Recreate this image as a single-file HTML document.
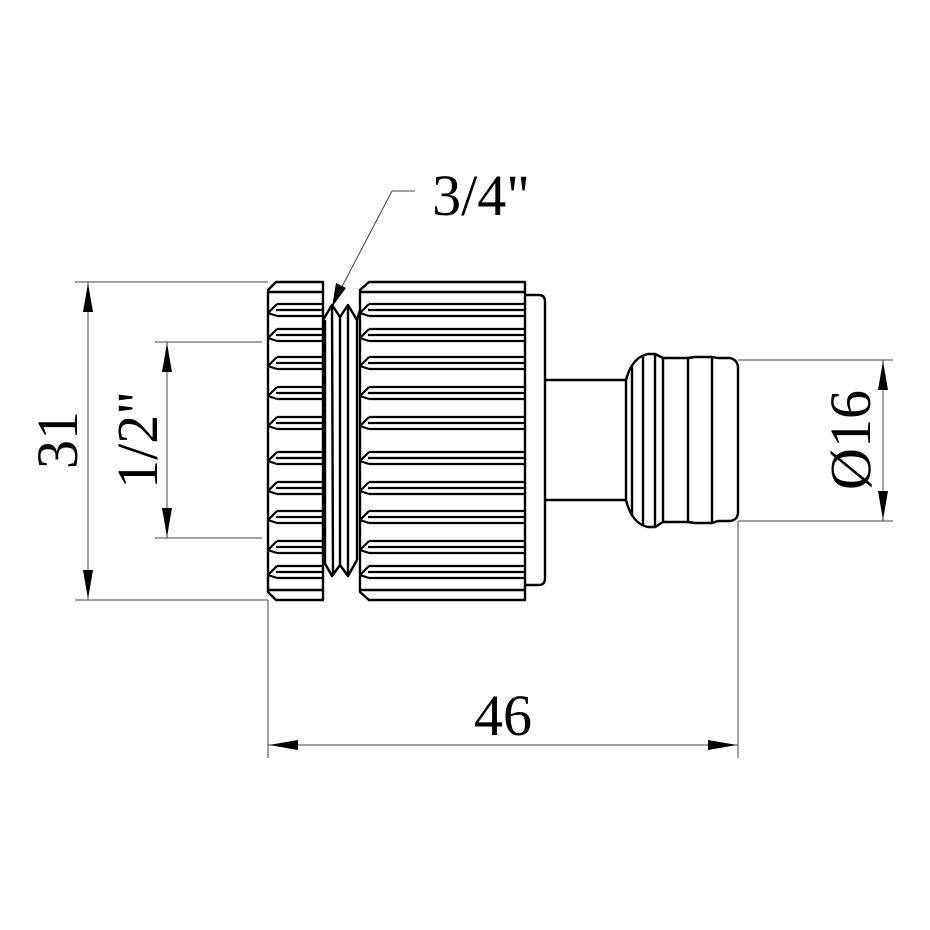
<!DOCTYPE html>
<html><head><meta charset="utf-8"><style>
html,body{margin:0;padding:0;background:#fff;}
svg{display:block;}
text{font-family:"Liberation Serif",serif;fill:#000;}
</style></head><body>
<svg width="930" height="930" viewBox="0 0 930 930" xmlns="http://www.w3.org/2000/svg">
<defs>
<g id="kl" fill="none" stroke="#000" stroke-width="2.2">
<path d="M277,-6H323 M276,0H323 M277,6H323 M268,3L277,-6 M268,3L277,6"/>
</g>
<g id="kr" fill="none" stroke="#000" stroke-width="2.2">
<path d="M369,-6H525 M368,0H525 M369,6H525 M360,3L369,-6 M360,3L369,6"/>
</g>
</defs>
<!-- dimension lines -->
<g stroke="#444" stroke-width="1" fill="none">
<path d="M75,282H268 M75,600H268 M155,342H262 M155,538H262 M738,360H893 M738,521H893 M268,600V758 M738,521V758 M392,191H415"/>
<path d="M88,282V600 M167,342V538 M883,360V521 M268,745H738 M392,191L335,300"/>
</g>
<g fill="#000">
<polygon points="88,283 83,312 93,312"/><polygon points="88,599 83,570 93,570"/>
<polygon points="167,343 162,372 172,372"/><polygon points="167,537 162,508 172,508"/>
<polygon points="883,361 878,390 888,390"/><polygon points="883,520 878,491 888,491"/>
<polygon points="269,745 298,740 298,750"/><polygon points="737,745 708,740 708,750"/>
<polygon points="332,307 336,283 346,288"/>
</g>
<!-- body -->
<g fill="none" stroke="#000" stroke-width="2.4" stroke-linejoin="round">
<!-- left ring -->
<path d="M276,282H323V600H276L268,592V290Z M268,292H323 M268,590H323"/>
<!-- right ring -->
<path d="M369,282H525V600H369L360,592V290Z M360,292H525 M360,590H525"/>
<!-- thread -->
<path d="M323,320L332,305L340,317L348,305L357,320L360,310 M323,560L332,576L340,565L348,576L357,560 M325,320V565 M332,305L333,576 M340,317V565 M348,305V576 M357,320V560"/>
<!-- flange -->
<path d="M525,295H539Q545,295 545,302V578Q545,585 539,585H525"/>
<!-- stem -->
<path d="M545,380H626 M545,500H626"/>
<!-- barb -->
<path d="M626,380Q632,357 648,354H655L663,358H688L695,357H712L718,358H730Q738,360 738,368V512Q738,520 730,521H718L712,523H695L688,522H663L655,527H648Q632,524 626,500Z"/>
<path d="M632,366V515 M643,355V526 M655,354V527 M663,358V522 M688,358V522 M712,358V522"/>
</g>
<use href="#kl" y="310"/><use href="#kl" y="335"/><use href="#kl" y="363"/><use href="#kl" y="393"/><use href="#kl" y="423"/>
<use href="#kl" y="458"/><use href="#kl" y="488"/><use href="#kl" y="517"/><use href="#kl" y="547"/><use href="#kl" y="572"/>
<use href="#kr" y="310"/><use href="#kr" y="335"/><use href="#kr" y="363"/><use href="#kr" y="393"/><use href="#kr" y="423"/>
<use href="#kr" y="458"/><use href="#kr" y="488"/><use href="#kr" y="517"/><use href="#kr" y="547"/><use href="#kr" y="572"/>
<!-- labels -->
<text x="481" y="215" font-size="58" text-anchor="middle">3/4"</text>
<text x="503" y="735" font-size="58" text-anchor="middle">46</text>
<text transform="translate(77,440) rotate(-90)" font-size="58" text-anchor="middle">31</text>
<text transform="translate(157,440) rotate(-90)" font-size="58" text-anchor="middle">1/2"</text>
<text transform="translate(870,440) rotate(-90)" font-size="58" text-anchor="middle">Ø16</text>
</svg>
</body></html>
